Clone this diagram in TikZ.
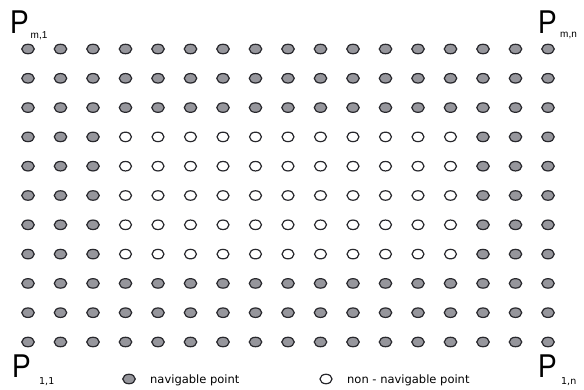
\documentclass[tikz,border=0pt]{standalone}
\usepackage{fontspec}
\setmainfont{Liberation Sans}
\newfontfamily\verd{DejaVu Sans}
\usetikzlibrary{shapes.geometric}
\definecolor{dotgray}{RGB}{150,150,156}
\definecolor{dotline}{RGB}{40,40,45}
\tikzset{
  navdot/.style={ellipse, draw=dotline, fill=dotgray, line width=1.2pt, minimum width=12.5pt, minimum height=9.5pt, inner sep=0pt},
  nondot/.style={ellipse, draw=dotline, fill=white, line width=1.2pt, minimum width=12pt, minimum height=9.5pt, inner sep=0pt},
  bigp/.style={anchor=base west, inner sep=0pt, font=\fontsize{33}{33}\selectfont},
  subtop/.style={anchor=base west, inner sep=0pt, font=\fontsize{10}{10}\selectfont},
  subbot/.style={anchor=base west, inner sep=0pt, font=\verd\fontsize{9.5}{9.5}\selectfont},
  legtext/.style={anchor=base west, inner sep=0pt, font=\verd\fontsize{11.5}{11.5}\selectfont}
}
\begin{document}
\begin{tikzpicture}[x=1pt,y=-1pt]
\useasboundingbox[fill=white] (0,0) rectangle (584,390);
\foreach \i in {1,...,17}{
  \foreach \j in {1,...,11}{
    \pgfmathsetmacro{\xx}{28+32.5*(\i-1)}
    \pgfmathsetmacro{\yy}{49+29.3*(\j-1)}
    \pgfmathtruncatemacro{\isnon}{(\j>=4)&&(\j<=8)&&(\i>=4)&&(\i<=14)}
    \ifnum\isnon=1
      \node[nondot] (d-\i-\j) at (\xx,\yy) {};
    \else
      \node[navdot] (d-\i-\j) at (\xx,\yy) {};
    \fi
  }
}
% corner labels
\node[bigp] (pm1) at (10,34) {\scalebox{0.85}[1]{P}};
\node[subtop] (pm1s) at (30.5,39) {m,1};
\node[bigp] (pmn) at (538,34) {\scalebox{0.85}[1]{P}};
\node[subtop] (pmns) at (560,38) {m,n};
\node[bigp] (p11) at (12,377) {\scalebox{0.85}[1]{P}};
\node[subbot] (p11s) at (39,384) {1,1};
\node[bigp] (p1n) at (538,377) {\scalebox{0.85}[1]{P}};
\node[subbot] (p1ns) at (561,384) {1,n};
% legend
\node[navdot] (legnav) at (129,379) {};
\node[legtext] (legnavt) at (150,383) {navigable point};
\node[nondot] (legnon) at (326,379) {};
\node[legtext] (legnont) at (347,383) {non - navigable point};
\end{tikzpicture}
\end{document}
